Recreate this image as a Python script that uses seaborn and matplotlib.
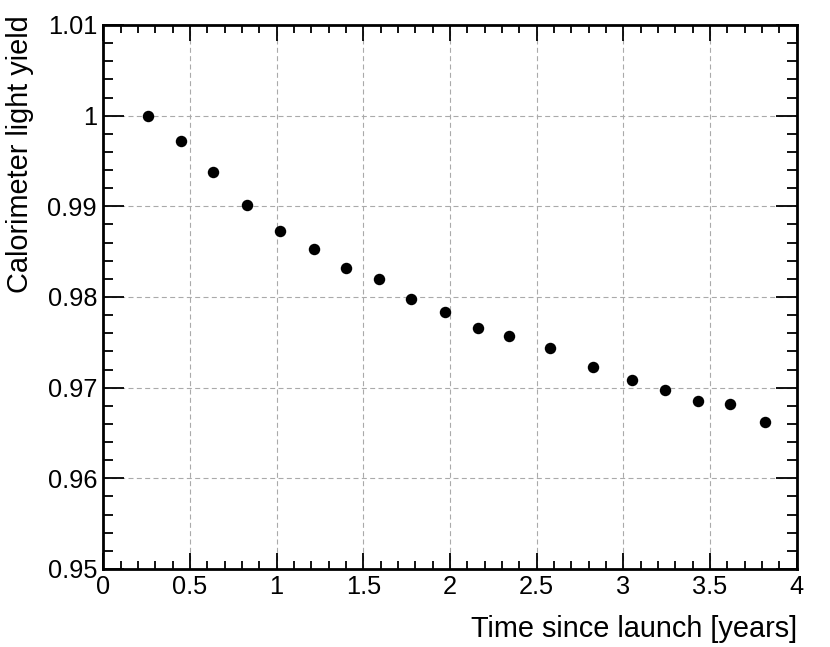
import numpy as np
import pandas as pd
import seaborn as sns
import matplotlib.pyplot as plt
from matplotlib.ticker import MultipleLocator, FuncFormatter

time_years = [0.26, 0.45, 0.633, 0.827, 1.021, 1.218, 1.399, 1.593, 1.775, 1.971,
              2.160, 2.342, 2.577, 2.824, 3.052, 3.239, 3.430, 3.616, 3.818]
light_yield = [1.0000, 0.99724, 0.99378, 0.99017, 0.98731, 0.98533, 0.98320, 0.98199,
               0.97977, 0.97830, 0.97657, 0.97569, 0.97433, 0.97223, 0.97087, 0.96974,
               0.96849, 0.96816, 0.96617]

df = pd.DataFrame({'Time since launch [years]': time_years,
                   'Calorimeter light yield': light_yield})

sns.set_style('ticks')
plt.rcParams['font.family'] = ['Liberation Sans', 'DejaVu Sans']
plt.rcParams['text.color'] = 'black'
plt.rcParams['axes.labelcolor'] = 'black'

fig = plt.figure(figsize=(8.3, 6.47), dpi=100)
ax = fig.add_axes([0.1245, 0.1206, 0.8354, 0.8408])

sns.scatterplot(data=df, x='Time since launch [years]', y='Calorimeter light yield',
                ax=ax, color='black', s=68, edgecolor='black', linewidth=0, zorder=3)

ax.set_xlim(0, 4)
ax.set_ylim(0.95, 1.01)

# ROOT style ticks on all sides, pointing inwards
ax.xaxis.set_major_locator(MultipleLocator(0.5))
ax.xaxis.set_minor_locator(MultipleLocator(0.1))
ax.yaxis.set_major_locator(MultipleLocator(0.01))
ax.yaxis.set_minor_locator(MultipleLocator(0.002))
fmt = FuncFormatter(lambda v, pos: f'{round(v, 4):g}')
ax.xaxis.set_major_formatter(fmt)
ax.yaxis.set_major_formatter(fmt)

ax.tick_params(which='both', direction='in', top=True, right=True,
               width=1.3, colors='black', labelcolor='black', labelsize=18.3)
ax.tick_params(axis='x', which='major', length=11.5, pad=4)
ax.tick_params(axis='x', which='minor', length=6)
ax.tick_params(axis='y', which='major', length=15, pad=4.5)
ax.tick_params(axis='y', which='minor', length=7.5)

for sp in ax.spines.values():
    sp.set_linewidth(2)
    sp.set_color('black')

ax.grid(True, which='major', color='#aaaaaa', linestyle=(0, (4.5, 3)), linewidth=0.8)
ax.set_axisbelow(True)

ax.set_xlabel('Time since launch [years]', fontsize=20.8, loc='right')
ax.set_ylabel('Calorimeter light yield', fontsize=20.8, loc='top')
ax.xaxis.set_label_coords(1.0, -0.085)
ax.yaxis.set_label_coords(-0.1, 1.017)

plt.savefig('out.png', dpi=100)
